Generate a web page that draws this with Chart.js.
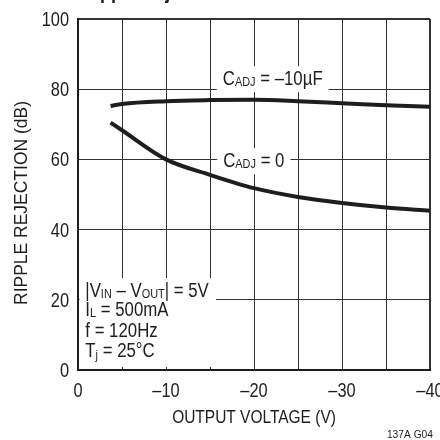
<!DOCTYPE html>
<html>
<head>
<meta charset="utf-8">
<script src="https://cdn.jsdelivr.net/npm/chart.js@4/dist/chart.umd.min.js"></script>
<style>
  html, body { margin: 0; padding: 0; background: #fff; }
  #wrap { width: 440px; height: 440px; }
</style>
</head>
<body>
<div id="wrap"><canvas id="c" width="440" height="440"></canvas></div>
<script>
// Ripple rejection vs output voltage, two adjust-pin capacitor cases
const outputVoltage      = [-3.7, -5, -10, -15, -20, -25, -30, -35, -40];
const rejectionCadj10uF  = [75.2, 75.8, 76.6, 76.9, 77.0, 76.6, 76.0, 75.4, 75.0];
const rejectionCadj0     = [70.5, 68.3, 60.0, 55.6, 51.8, 49.3, 47.6, 46.3, 45.4];
const xGridValues        = [-40, -35, -30, -25, -20, -15, -10, -5, 0];
const xTickLabels        = [0, -10, -20, -30, -40];
const yTickValues        = [0, 20, 40, 60, 80, 100];

const FONT = "'Liberation Sans', Arial, sans-serif";
const INK = '#1e1e1e';
const NARROW = 0.84;   // horizontal squeeze giving a condensed face

const fmtVolt = v => (v === 0 ? '0' : '\u2013' + Math.abs(v));

// Condensed text: draws str at (x, y) and returns its drawn width.
function drawText(ctx, str, x, y, o) {
  const sq = o.squeeze || NARROW;
  ctx.save();
  ctx.translate(x, y);
  if (o.rotate) ctx.rotate(o.rotate);
  ctx.scale(sq, 1);
  ctx.font = `${o.bold ? 'bold ' : ''}${o.size}px ${FONT}`;
  ctx.textAlign = o.align || 'left';
  ctx.textBaseline = 'alphabetic';
  if (!o.measureOnly) ctx.fillText(str, 0, 0);
  const w = ctx.measureText(str).width * sq;
  ctx.restore();
  return w;
}

// Text made of normal and subscript runs; returns the total width.
function drawRich(ctx, parts, x0, base, measureOnly) {
  let x = x0;
  for (const p of parts) {
    x += drawText(ctx, p.t, x, base + (p.sub ? 1.5 : 0),
      { size: p.sub ? 13 : 20, measureOnly });
  }
  return x - x0;
}

const curveLabels = [
  { x: -16.45, y: 81.3, parts: [{t: 'C'}, {t: 'ADJ', sub: true}, {t: ' = \u201310\u00b5F'}] },
  { x: -16.5,  y: 57.9, parts: [{t: 'C'}, {t: 'ADJ', sub: true}, {t: ' = 0'}] }
];

const conditionLines = [
  [{t: '|V'}, {t: 'IN', sub: true}, {t: ' \u2013 V'}, {t: 'OUT', sub: true}, {t: '| = 5V'}],
  [{t: 'I'}, {t: 'L', sub: true}, {t: ' = 500mA'}],
  [{t: 'f = 120Hz'}],
  [{t: 'T'}, {t: 'j', sub: true}, {t: ' = 25\u00b0C'}]
];
const conditionBaselines = [20.9, 15.4, 9.5, 3.6];

const notesPlugin = {
  id: 'notes',
  beforeDatasetsDraw(chart) {
    const { ctx, chartArea } = chart;
    const xs = chart.scales.x, ys = chart.scales.y;
    ctx.save();

    // curve labels on white patches that interrupt the grid
    for (const lab of curveLabels) {
      const tx = xs.getPixelForValue(lab.x);
      const base = ys.getPixelForValue(lab.y);
      const w = drawRich(ctx, lab.parts, tx, base, true);
      ctx.fillStyle = '#fff';
      ctx.fillRect(tx - 6, base - 18.5, w + 12, 26);
      ctx.fillStyle = INK;
      drawRich(ctx, lab.parts, tx, base);
    }

    // test conditions block
    const left = chartArea.left + 1.5;
    const right = xs.getPixelForValue(-15.68);
    const top = ys.getPixelForValue(26.2);
    const bottom = ys.getPixelForValue(0.85);
    ctx.fillStyle = '#fff';
    ctx.fillRect(left, top, right - left, bottom - top);
    ctx.fillStyle = INK;
    const lx = xs.getPixelForValue(-0.83);
    conditionLines.forEach((parts, i) => {
      drawRich(ctx, parts, lx, ys.getPixelForValue(conditionBaselines[i]));
    });
    ctx.restore();
  },
  afterDraw(chart) {
    const { ctx, chartArea } = chart;
    const xs = chart.scales.x, ys = chart.scales.y;
    ctx.save();
    ctx.fillStyle = INK;

    // axis tick labels at the scales' tick positions
    ys.ticks.forEach(t => {
      drawText(ctx, String(t.value), chartArea.left - 9, ys.getPixelForValue(t.value) + 7,
        { size: 19.5, align: 'right' });
    });
    xs.ticks.forEach(t => {
      if (!xTickLabels.includes(t.value)) return;
      drawText(ctx, fmtVolt(t.value), xs.getPixelForValue(t.value), chartArea.bottom + 26.7,
        { size: 19.5, align: 'center' });
    });

    // axis titles
    drawText(ctx, 'OUTPUT VOLTAGE (V)', (chartArea.left + chartArea.right) / 2, chartArea.bottom + 52.7,
      { size: 19, align: 'center', squeeze: 0.815 });
    drawText(ctx, 'RIPPLE REJECTION (dB)', 26.7, 203,
      { size: 18.6, align: 'center', squeeze: 0.94, rotate: -Math.PI / 2 });

    // heading, mostly above the canvas edge
    drawText(ctx, 'Ripple Rejection', 82, -2, { size: 22, bold: true, squeeze: 0.82 });
    // figure code
    drawText(ctx, '137A G04', 433, 438, { size: 11.5, align: 'right', squeeze: 0.89 });
    ctx.restore();
  }
};

const edgeWidth = edge => c => (c.tick && c.tick.value === edge ? 2 : 1);

new Chart(document.getElementById('c'), {
  type: 'line',
  data: {
    datasets: [
      {
        label: 'CADJ = \u201310\u00b5F',
        data: outputVoltage.map((v, i) => ({ x: v, y: rejectionCadj10uF[i] })),
        borderColor: INK, borderWidth: 4, pointRadius: 0,
        cubicInterpolationMode: 'monotone', fill: false
      },
      {
        label: 'CADJ = 0',
        data: outputVoltage.map((v, i) => ({ x: v, y: rejectionCadj0[i] })),
        borderColor: INK, borderWidth: 4, pointRadius: 0,
        cubicInterpolationMode: 'monotone', fill: false
      }
    ]
  },
  options: {
    responsive: false,
    animation: false,
    layout: { padding: { top: 19, right: 10, left: 0, bottom: 0 } },
    plugins: { legend: { display: false }, tooltip: { enabled: false } },
    scales: {
      x: {
        type: 'linear', reverse: true, min: -40, max: 0,
        afterBuildTicks: s => { s.ticks = xGridValues.map(v => ({ value: v })); },
        ticks: { display: false },
        grid: { color: '#333', lineWidth: edgeWidth(-40), drawTicks: false },
        border: { color: INK, width: 2 },
        afterFit: s => { s.height = 70; s.paddingLeft = 0; s.paddingRight = 0; }
      },
      y: {
        min: 0, max: 100,
        afterBuildTicks: s => { s.ticks = yTickValues.map(v => ({ value: v })); },
        ticks: { display: false },
        grid: { color: '#333', lineWidth: edgeWidth(100), drawTicks: false },
        border: { color: INK, width: 2 },
        afterFit: s => { s.width = 78; s.paddingTop = 0; s.paddingBottom = 0; }
      }
    }
  },
  plugins: [notesPlugin]
});
</script>
</body>
</html>
